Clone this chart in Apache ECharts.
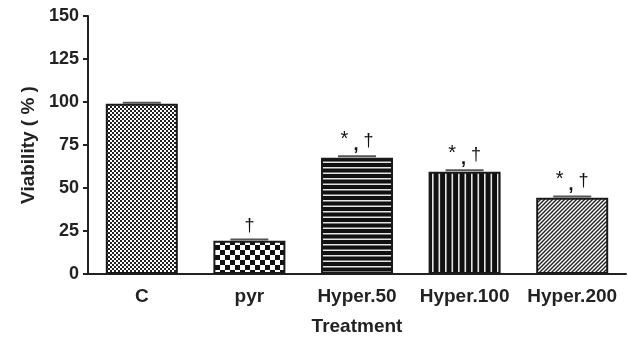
<!DOCTYPE html>
<html><head><meta charset="utf-8">
<script src="https://cdn.jsdelivr.net/npm/echarts@6/dist/echarts.min.js"></script>
<style>html,body{margin:0;padding:0;background:#fff}#c{width:628px;height:337px}</style>
</head><body><div id="c"></div>
<script>
const categories = ['C', 'pyr', 'Hyper.50', 'Hyper.100', 'Hyper.200'];
const viability = [99, 19.4, 67.6, 59.5, 44.4];
const errors = [0.6, 0.6, 0.8, 0.8, 0.6];
const marks = ['', 'dag', 'both', 'both', 'both'];
const yTicks = [0, 25, 50, 75, 100, 125, 150];

function pat(w, h, draw) {
  const c = document.createElement('canvas');
  c.width = w; c.height = h;
  const g = c.getContext('2d');
  draw(g, w, h);
  return { image: c, repeat: 'repeat' };
}
const patterns = [
  pat(4, 4, (g) => { g.fillStyle = '#fff'; g.fillRect(0,0,4,4); g.fillStyle = '#222'; g.fillRect(0,0,2,2); g.fillRect(2,2,2,2); }),
  pat(10, 10, (g) => { g.fillStyle = '#fff'; g.fillRect(0,0,10,10); g.fillStyle = '#111'; g.fillRect(0,0,5,5); g.fillRect(5,5,5,5); }),
  pat(4, 11, (g) => { g.fillStyle = '#111'; g.fillRect(0,0,4,11); g.fillStyle = '#e4e4e4'; g.fillRect(0,2,4,1.5); g.fillRect(0,7.5,4,1.5); }),
  pat(13, 4, (g) => { g.fillStyle = '#111'; g.fillRect(0,0,13,4); g.fillStyle = '#e4e4e4'; g.fillRect(3,0,1.6,4); g.fillRect(9.5,0,1.6,4); }),
  pat(4, 4, (g) => { g.fillStyle = '#fff'; g.fillRect(0,0,4,4); g.strokeStyle = '#222'; g.lineWidth = 1.4;
    g.beginPath(); g.moveTo(-1,5); g.lineTo(5,-1); g.moveTo(-1,1); g.lineTo(1,-1); g.moveTo(3,5); g.lineTo(5,3); g.stroke(); })
];

const chart = echarts.init(document.getElementById('c'), null, { renderer: 'canvas' });
const font = 'Liberation Sans, Arial, Helvetica, sans-serif';
chart.setOption({
  animation: false,
  backgroundColor: '#fff',
  grid: { left: 88, right: 2, top: 16, bottom: 63, containLabel: false, outerBoundsMode: 'none' },
  xAxis: {
    type: 'category', data: categories,
    name: 'Treatment', nameLocation: 'middle', nameGap: 43,
    nameTextStyle: { fontFamily: font, fontWeight: 'bold', fontSize: 19, color: '#222' },
    axisLine: { lineStyle: { color: '#222', width: 2 } },
    axisTick: { alignWithLabel: true, length: 6, lineStyle: { color: '#222', width: 2 } },
    axisLabel: { interval: 0, fontFamily: font, fontWeight: 'bold', fontSize: 19, color: '#222', margin: 13 }
  },
  yAxis: {
    type: 'value', min: 0, max: 150, interval: 25,
    name: 'Viability ( % )', nameLocation: 'middle', nameGap: 48,
    nameTextStyle: { fontFamily: font, fontWeight: 'bold', fontSize: 19, color: '#222' },
    splitLine: { show: false },
    axisLine: { show: true, lineStyle: { color: '#222', width: 2 } },
    axisTick: { show: true, length: 5, lineStyle: { color: '#222', width: 2 } },
    axisLabel: { fontFamily: font, fontWeight: 'bold', fontSize: 18, color: '#222', margin: 9,
      formatter: (v) => yTicks.includes(v) ? String(v) : '' }
  },
  series: [
    {
      type: 'bar', barWidth: 72,
      data: viability.map((v, i) => ({
        value: v,
        itemStyle: { color: patterns[i], borderColor: '#1a1a1a', borderWidth: 2 },
        label: {
          show: marks[i] !== '', position: 'top', distance: marks[i] === 'dag' ? 6 : 4,
          formatter: marks[i] === 'dag' ? '{d|†}' : '{s|*}{c| ,}{d| †}',
          rich: {
            s: { fontFamily: font, fontSize: 20, color: '#111', verticalAlign: 'top', padding: [2, 0, 2, 0] },
            c: { fontFamily: font, fontSize: 18, fontWeight: 'bold', color: '#111', padding: [8, 0, 0, 0] },
            d: { fontFamily: font, fontSize: 18, color: '#111' }
          }
        }
      }))
    },
    {
      type: 'custom',
      data: viability.map((v, i) => [i, v, errors[i]]),
      renderItem: (params, api) => {
        const p = api.coord([api.value(0), api.value(1) + api.value(2)]);
        return { type: 'line', shape: { x1: p[0] - 19, y1: p[1], x2: p[0] + 19, y2: p[1] },
          style: { stroke: '#555', lineWidth: 2 } };
      },
      z: 3
    }
  ]
});
</script></body></html>
